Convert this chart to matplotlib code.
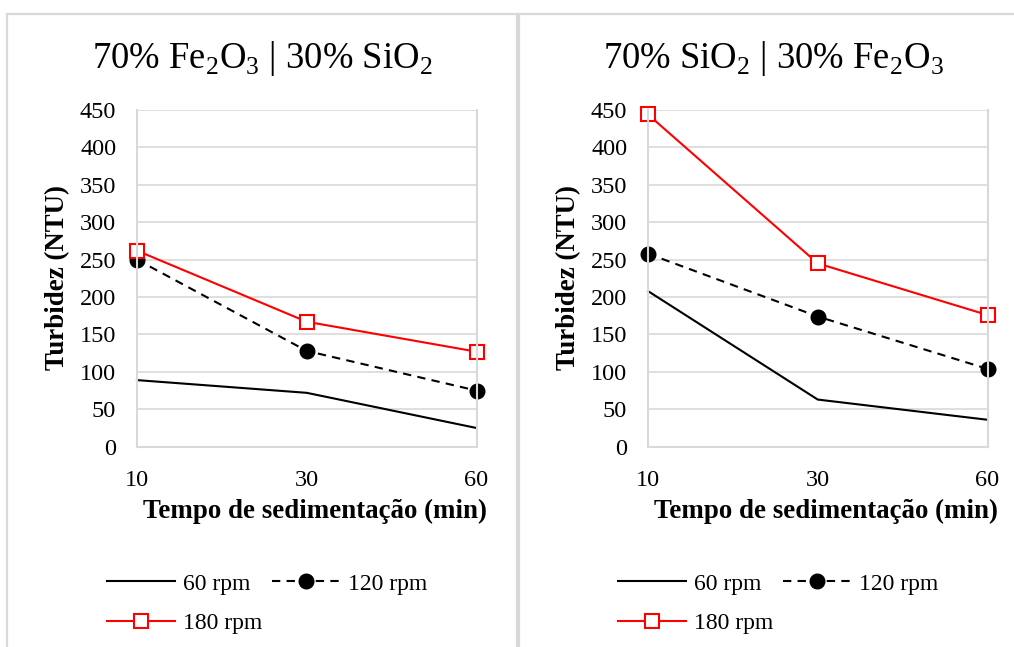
import matplotlib
matplotlib.use('Agg')
import matplotlib.pyplot as plt
from matplotlib.patches import Rectangle

plt.rcParams['font.family'] = ['Liberation Serif', 'DejaVu Serif']
plt.rcParams['mathtext.fontset'] = 'custom'
plt.rcParams['mathtext.rm'] = 'Liberation Serif'

# tempo de sedimentação (min)
tempos = ['10', '30', '60']
series_labels = ['60 rpm', '120 rpm', '180 rpm']

# 70% Fe2O3 | 30% SiO2
fe_60 = [89, 72, 25]
fe_120 = [250, 128, 75]
fe_180 = [262, 167, 127]

# 70% SiO2 | 30% Fe2O3
si_60 = [208, 63, 36]
si_120 = [258, 174, 104]
si_180 = [444, 245, 176]

titles = ['70% Fe$_\\mathregular{2}$O$_\\mathregular{3}$ | 30% SiO$_\\mathregular{2}$',
          '70% SiO$_\\mathregular{2}$ | 30% Fe$_\\mathregular{2}$O$_\\mathregular{3}$']

W, H = 1014, 647
fig = plt.figure(figsize=(W / 100, H / 100), dpi=100)
grey = '#d9d9d9'

# molduras dos dois gráficos
for x0, x1 in [(7, 517), (519, 1030)]:
    fig.patches.append(Rectangle((x0 / W, -0.1), (x1 - x0) / W, 1.1 - 14 / H,
                                 transform=fig.transFigure, fill=False,
                                 edgecolor=grey, lw=1.6))

paineis = [(fe_60, fe_120, fe_180), (si_60, si_120, si_180)]
offsets = [0, 511]

for k, (s60, s120, s180) in enumerate(paineis):
    dx = offsets[k]
    ax = fig.add_axes([(137 + dx) / W, (H - 446.7) / H, 339.5 / W, (446.7 - 110) / H])
    xs = range(len(tempos))
    l1, = ax.plot(xs, s60, color='black', lw=1.5, label=series_labels[0], clip_on=False)
    l2, = ax.plot(xs, s120, color='black', lw=1.5, ls=(0, (4, 3)), marker='o', ms=10.5,
                  label=series_labels[1], clip_on=False)
    l3, = ax.plot(xs, s180, color='#ff0000', lw=1.5, marker='s', ms=9.5, mfc='white',
                  mec='#ff0000', mew=1.5, label=series_labels[2], clip_on=False)

    ax.set_xlim(0, 2)
    ax.set_ylim(0, 450)
    ax.set_xticks(list(xs))
    ax.set_xticklabels(tempos)
    ax.set_yticks(range(0, 451, 50))
    ax.tick_params(length=0, labelsize=17.5)
    ax.tick_params(axis='x', pad=16.5)
    ax.tick_params(axis='y', pad=15)
    ax.grid(True, axis='y', color=grey, lw=1.2)
    ax.set_axisbelow(True)
    for sp in ['left', 'right', 'bottom']:
        ax.spines[sp].set_color(grey)
        ax.spines[sp].set_linewidth(1.5)
    ax.spines['top'].set_visible(False)

    fig.text((262 + dx) / W, 1 - 68 / H, titles[k], fontsize=26.4,
             ha='center', va='baseline')
    fig.text((58 + dx) / W, 1 - 278 / H, 'Turbidez (NTU)', fontsize=19.4,
             fontweight='bold', rotation=90, ha='center', va='center')
    fig.text((315 + dx) / W, 1 - 511 / H, 'Tempo de sedimentação (min)', fontsize=19.4,
             fontweight='bold', ha='center', va='center')

    # ordem por colunas: 60 e 180 na primeira, 120 na segunda
    fig.legend(handles=[l1, l3, l2], ncol=2, loc='upper left',
               bbox_to_anchor=((107 + dx) / W, 1 - 573 / H), frameon=False,
               fontsize=17, handlelength=2.88, handletextpad=0.34,
               columnspacing=0.42, labelspacing=0.75, borderpad=0, borderaxespad=0)

fig.savefig('out.png', dpi=100)
